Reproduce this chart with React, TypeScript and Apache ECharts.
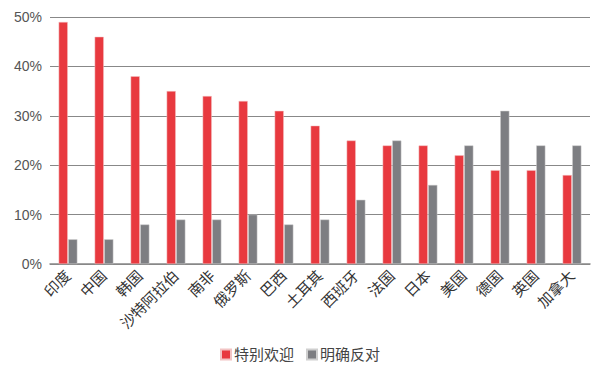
import React, { useEffect, useRef } from "react";
import * as echarts from "echarts";

const categories = ["印度", "中国", "韩国", "沙特阿拉伯", "南非", "俄罗斯", "巴西", "土耳其", "西班牙", "法国", "日本", "美国", "德国", "英国", "加拿大"];
const welcome = [49, 46, 38, 35, 34, 33, 31, 28, 25, 24, 24, 22, 19, 19, 18];
const oppose = [5, 5, 8, 9, 9, 10, 8, 9, 13, 25, 16, 24, 31, 24, 24];
const seriesNames = ["特别欢迎", "明确反对"];

export default function App() {
  const ref = useRef<HTMLDivElement>(null);
  useEffect(() => {
    const chart = echarts.init(ref.current!, null, { renderer: "svg" });
    const font = "'Liberation Sans', 'Noto Sans CJK SC', sans-serif";
    chart.setOption({
      animation: false,
      backgroundColor: "#ffffff",
      textStyle: { fontFamily: font },
      grid: { left: 50, right: 10, top: 17, bottom: 105 },
      legend: {
        bottom: 2,
        left: "center",
        itemWidth: 10,
        itemHeight: 10,
        itemGap: 12,
        icon: "rect",
        textStyle: { fontSize: 15, color: "#444", fontFamily: font, padding: [0, 0, 0, -2] },
        data: seriesNames,
      },
      xAxis: {
        type: "category",
        data: categories,
        axisLine: { lineStyle: { color: "#888", width: 1.5 } },
        axisTick: { show: false },
        axisLabel: { rotate: 45, fontSize: 15, color: "#333", margin: 9, interval: 0, fontFamily: font },
      },
      yAxis: {
        type: "value",
        min: 0,
        max: 50,
        interval: 10,
        axisLine: { show: false },
        axisTick: { show: false },
        axisLabel: { formatter: "{value}%", fontSize: 14, color: "#555", margin: 8, fontFamily: font },
        splitLine: { lineStyle: { color: "#888", width: 1.2 } },
      },
      series: [
        {
          name: seriesNames[0],
          type: "bar",
          data: welcome,
          barGap: "5%",
          barCategoryGap: "48%",
          itemStyle: { color: "#e8393f", borderColor: "#f2c4c4", borderWidth: 0.5 },
        },
        {
          name: seriesNames[1],
          type: "bar",
          data: oppose,
          itemStyle: { color: "#7d7e82", borderColor: "#cfcfcf", borderWidth: 0.5 },
        },
      ],
    });
    return () => chart.dispose();
  }, []);
  return <div ref={ref} style={{ position: "fixed", left: 0, top: 0, width: 600, height: 369 }} />;
}
